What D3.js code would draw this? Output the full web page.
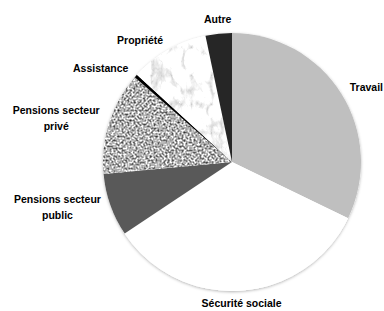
<!DOCTYPE html>
<html>
<head>
<meta charset="utf-8">
<script src="https://cdn.jsdelivr.net/npm/d3@7"></script>
<style>
  body { margin: 0; background: #fff; }
  text { font-family: "Liberation Sans", Arial, sans-serif; font-weight: bold; font-size: 10.5px; fill: #000; }
</style>
</head>
<body>
<div id="chart"></div>
<script>
// shares (%), clockwise from 12 o'clock
let categories = ["Travail", "Sécurité sociale", "Pensions secteur public", "Pensions secteur privé", "Assistance", "Propriété", "Autre"];
let values = [32.2, 33.5, 7.9, 12.9, 0.4, 9.9, 3.3];
let labelLines = [["Travail"], ["Sécurité sociale"], ["Pensions secteur", "public"], ["Pensions secteur", "privé"], ["Assistance"], ["Propriété"], ["Autre"]];
let fills = ["#bfbfbf", "#ffffff", "#595959", "#999999", "#000000", "#999999", "#262626"];
let textures = [null, null, null, "granite", null, "marble", null];

let width = 384, height = 311;
let cx = 232, cy = 162, r = 129;

let svg = d3.select("#chart")
    .append("svg")
    .attr("width", width)
    .attr("height", height);

let defs = svg.append("defs");

// speckled grey stone
let granite = defs.append("filter")
    .attr("id", "granite")
    .attr("x", 0).attr("y", 0).attr("width", 1).attr("height", 1)
    .attr("color-interpolation-filters", "sRGB");
granite.append("feTurbulence")
    .attr("type", "fractalNoise")
    .attr("baseFrequency", 0.5)
    .attr("numOctaves", 3)
    .attr("seed", 7)
    .attr("result", "noise");
granite.append("feColorMatrix")
    .attr("in", "noise")
    .attr("type", "matrix")
    .attr("values", "1.6 0 0 0 -0.1  1.6 0 0 0 -0.1  1.6 0 0 0 -0.1  0 0 0 0 1")
    .attr("result", "grey");
granite.append("feComposite")
    .attr("in", "grey")
    .attr("in2", "SourceGraphic")
    .attr("operator", "in");

// white marble with soft grey veins
let marble = defs.append("filter")
    .attr("id", "marble")
    .attr("x", 0).attr("y", 0).attr("width", 1).attr("height", 1)
    .attr("color-interpolation-filters", "sRGB");
marble.append("feTurbulence")
    .attr("type", "turbulence")
    .attr("baseFrequency", "0.05 0.035")
    .attr("numOctaves", 4)
    .attr("seed", 3)
    .attr("result", "noise");
marble.append("feColorMatrix")
    .attr("in", "noise")
    .attr("type", "matrix")
    .attr("values", "0.8 0 0 0 0.8  0.8 0 0 0 0.8  0.8 0 0 0 0.8  0 0 0 0 1")
    .attr("result", "grey");
marble.append("feGaussianBlur")
    .attr("in", "grey")
    .attr("stdDeviation", 0.6)
    .attr("result", "soft");
marble.append("feComposite")
    .attr("in", "soft")
    .attr("in2", "SourceGraphic")
    .attr("operator", "in");

let shadow = defs.append("filter")
    .attr("id", "shadow")
    .attr("x", -0.1).attr("y", -0.1).attr("width", 1.2).attr("height", 1.2);
shadow.append("feDropShadow")
    .attr("dx", 0)
    .attr("dy", 1)
    .attr("stdDeviation", 1.5)
    .attr("flood-color", "#000")
    .attr("flood-opacity", 0.3);

let g = svg.append("g")
    .attr("transform", "translate(" + cx + "," + cy + ")");

let pie = d3.pie().sort(null).startAngle(0).endAngle(2 * Math.PI);
let arcs = pie(values);

let arc = d3.arc().innerRadius(0).outerRadius(r);

// faint shadow under the disc
g.append("circle")
    .attr("r", r)
    .attr("fill", "#fff")
    .attr("filter", "url(#shadow)");

g.selectAll("path.slice")
    .data(arcs)
    .enter()
    .append("path")
    .attr("class", "slice")
    .attr("d", arc)
    .attr("fill", (d, i) => fills[i])
    .attr("filter", (d, i) => textures[i] ? "url(#" + textures[i] + ")" : null);

// labels just outside the rim
let labelArc = d3.arc().innerRadius(r + 10).outerRadius(r + 10);
let lineH = 16;

g.selectAll("text.label")
    .data(arcs)
    .enter()
    .append("text")
    .attr("class", "label")
    .each(function (d, i) {
        let [x, y] = labelArc.centroid(d);
        let mid = (d.startAngle + d.endAngle) / 2;
        let s = Math.sin(mid), c = -Math.cos(mid);
        let lines = labelLines[i];
        let t = d3.select(this);
        let anchor = Math.abs(s) < 0.3 ? "middle" : (s > 0 ? "start" : "end");
        let top = y - (lines.length - 1) * lineH / 2;
        if (anchor === "middle") top += (c > 0 ? 1 : -1) * 4;
        lines.forEach((ln, k) => {
            t.append("tspan")
                .attr("x", x)
                .attr("y", top + k * lineH)
                .attr("dominant-baseline", "middle")
                .text(ln);
        });
        t.attr("text-anchor", anchor);
        // multi-line labels are centred on their widest line
        if (lines.length > 1) {
            let w = this.getBBox().width;
            let xc = anchor === "end" ? x - w / 2 : x + w / 2;
            t.attr("text-anchor", "middle");
            t.selectAll("tspan").attr("x", xc);
        }
    });
</script>
</body>
</html>
